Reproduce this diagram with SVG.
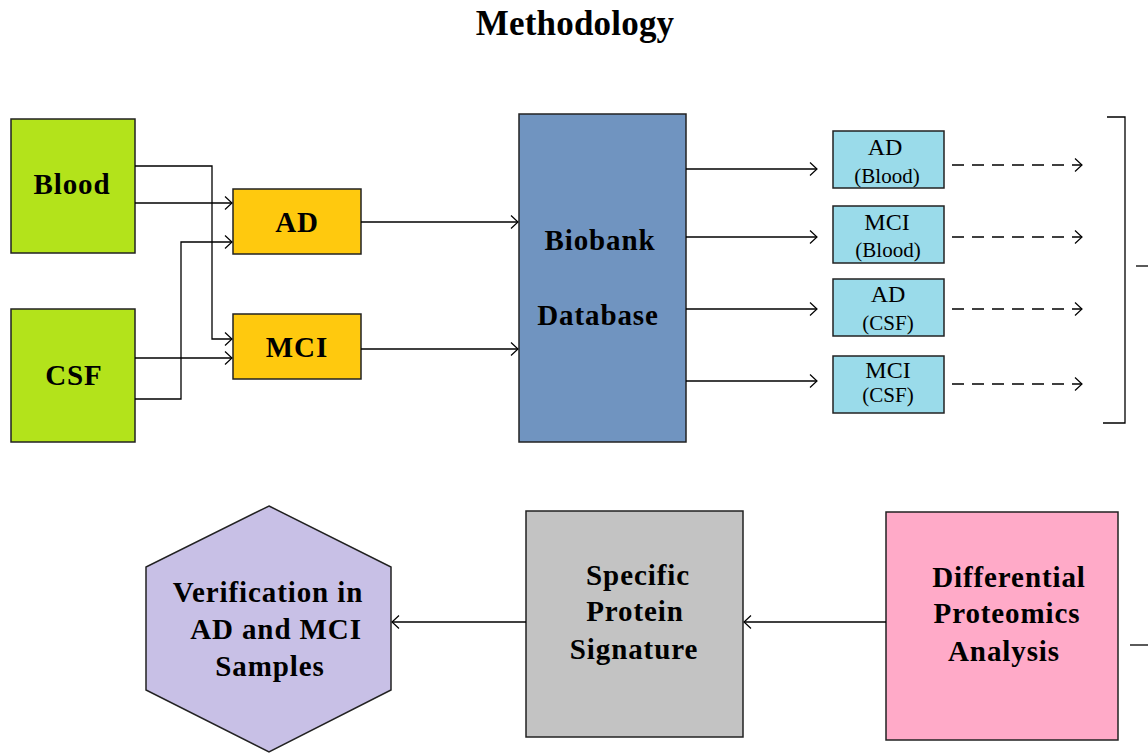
<svg xmlns="http://www.w3.org/2000/svg" width="1148" height="753" viewBox="0 0 1148 753">
<defs>
<style>
.b{font-family:"Liberation Serif","Times New Roman",serif;font-weight:bold;font-size:29px;letter-spacing:0.9px;text-anchor:middle;fill:#000}
.r{font-family:"Liberation Serif","Times New Roman",serif;font-size:24px;text-anchor:middle;fill:#000}
.s{font-family:"Liberation Serif","Times New Roman",serif;font-size:21px;text-anchor:middle;fill:#000}
.box{stroke:#222;stroke-width:1.5}
.c{fill:none;stroke:#000;stroke-width:1.3}
</style>
<marker id="ar" markerUnits="userSpaceOnUse" markerWidth="10" markerHeight="16" refX="7" refY="6.5" orient="auto" viewBox="-1 -1 10 16">
<path d="M0,0 L7,6.5 L0,13" fill="none" stroke="#000" stroke-width="1.2"/>
</marker>
</defs>
<rect width="1148" height="753" fill="#fff"/>
<text x="575" y="35" class="b" style="font-size:35px;letter-spacing:0.2px">Methodology</text>

<g id="blood"><rect class="box" x="11" y="119" width="124" height="134" fill="#B3E31B"/><text x="72" y="194" class="b">Blood</text></g>
<g id="csf"><rect class="box" x="11" y="309" width="124" height="133" fill="#B3E31B"/><text x="74" y="385" class="b">CSF</text></g>
<g id="ad"><rect class="box" x="233" y="189" width="128" height="65" fill="#FFC90E"/><text x="297" y="232" class="b">AD</text></g>
<g id="mci"><rect class="box" x="233" y="314" width="128" height="65" fill="#FFC90E"/><text x="297" y="357" class="b">MCI</text></g>
<g id="biobank"><rect class="box" x="519" y="114" width="167" height="328" fill="#7094C0"/><text x="600" y="250" class="b">Biobank</text><text x="598" y="325" class="b">Database</text></g>

<g id="ad-blood"><rect class="box" x="833" y="131" width="111" height="57" fill="#9ADBEA"/><text x="885" y="155" class="r">AD</text><text x="887" y="183" class="s">(Blood)</text></g>
<g id="mci-blood"><rect class="box" x="833" y="206" width="111" height="57" fill="#9ADBEA"/><text x="887" y="230" class="r">MCI</text><text x="888" y="257" class="s">(Blood)</text></g>
<g id="ad-csf"><rect class="box" x="833" y="279" width="111" height="57" fill="#9ADBEA"/><text x="888" y="302" class="r">AD</text><text x="888" y="330" class="s">(CSF)</text></g>
<g id="mci-csf"><rect class="box" x="833" y="356" width="111" height="57" fill="#9ADBEA"/><text x="888" y="378" class="r">MCI</text><text x="888" y="402" class="s">(CSF)</text></g>

<g id="verification"><polygon class="box" points="269,506 391,567 391,690 269,752 146,690 146,567" fill="#C8C0E6"/><text x="268" y="602" class="b">Verification in</text><text x="276" y="639" class="b">AD and MCI</text><text x="270" y="676" class="b">Samples</text></g>
<g id="signature"><rect class="box" x="526" y="511" width="217" height="226" fill="#C3C3C3"/><text x="638" y="585" class="b">Specific</text><text x="635" y="621" class="b">Protein</text><text x="634" y="659" class="b">Signature</text></g>
<g id="proteomics"><rect class="box" x="886" y="512" width="232" height="228" fill="#FFAAC8"/><text x="1009" y="587" class="b">Differential</text><text x="1007" y="623" class="b">Proteomics</text><text x="1004" y="661" class="b">Analysis</text></g>

<g id="connectors">
<path class="c" d="M135,166 H212 V339 H232" marker-end="url(#ar)"/>
<path class="c" d="M135,203 H232" marker-end="url(#ar)"/>
<path class="c" d="M135,358 H232" marker-end="url(#ar)"/>
<path class="c" d="M135,399 H181 V242 H232" marker-end="url(#ar)"/>
<path class="c" d="M361,222 H518" marker-end="url(#ar)"/>
<path class="c" d="M361,349 H518" marker-end="url(#ar)"/>
<path class="c" d="M686,169 H817" marker-end="url(#ar)"/>
<path class="c" d="M686,237 H817" marker-end="url(#ar)"/>
<path class="c" d="M686,309 H817" marker-end="url(#ar)"/>
<path class="c" d="M686,381 H817" marker-end="url(#ar)"/>
<path class="c" d="M952,165 H1082" stroke-dasharray="12,8" marker-end="url(#ar)"/>
<path class="c" d="M952,237 H1082" stroke-dasharray="12,8" marker-end="url(#ar)"/>
<path class="c" d="M952,309 H1082" stroke-dasharray="12,8" marker-end="url(#ar)"/>
<path class="c" d="M952,384 H1082" stroke-dasharray="12,8" marker-end="url(#ar)"/>
<path class="c" d="M1107,117 H1125 V423 H1103" stroke-width="1.6"/>
<path class="c" d="M1136,266 H1148"/>
<path class="c" d="M886,622 H744" marker-end="url(#ar)"/>
<path class="c" d="M526,622 H392" marker-end="url(#ar)"/>
<path class="c" d="M1130,645 H1148"/>
</g>
</svg>
